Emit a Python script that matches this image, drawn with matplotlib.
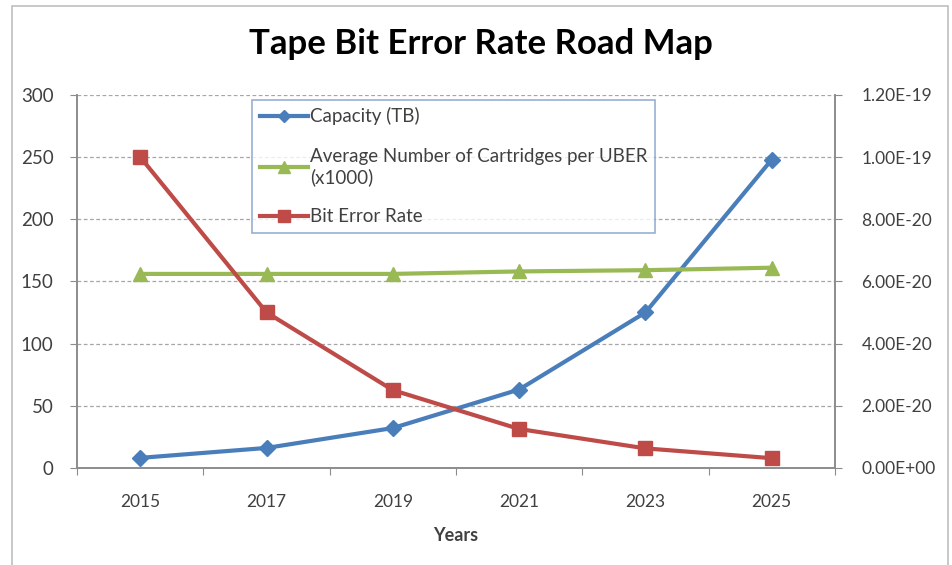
import matplotlib.pyplot as plt
from matplotlib.patches import Rectangle
from matplotlib.ticker import FixedLocator, FuncFormatter

plt.rcParams['font.family'] = ['Lato', 'DejaVu Sans']

years = ["2015", "2017", "2019", "2021", "2023", "2025"]
capacity_tb = [8, 16, 32, 63, 125, 248]
cartridges_k = [156, 156, 156, 158, 159, 161]
bit_error_rate = [1.0e-19, 5.0e-20, 2.5e-20, 1.25e-20, 6.25e-21, 3.1e-21]

blue = "#4A7EBB"
green = "#98B954"
red = "#BE4B48"
axis_grey = "#8C8C8C"
text_grey = "#404040"

fig = plt.figure(figsize=(9.52, 5.65), dpi=100)
# outer chart border
fig.patches.append(Rectangle((0.013, -0.01), 0.983, 1.0, transform=fig.transFigure,
                             fill=False, edgecolor="#BFBFBF", linewidth=1.2))

ax = fig.add_axes([0.081, 0.172, 0.796, 0.66])
ax2 = ax.twinx()

x = list(range(len(years)))
l1, = ax.plot(x, capacity_tb, color=blue, lw=3, marker="D", ms=8, label="Capacity (TB)")
l2, = ax.plot(x, cartridges_k, color=green, lw=3, marker="^", ms=10,
              label="Average Number of Cartridges per UBER\n(x1000)")
l3, = ax2.plot(x, bit_error_rate, color=red, lw=3, marker="s", ms=10, label="Bit Error Rate")

ax.set_xlim(-0.5, len(years) - 0.5)
ax.set_ylim(0, 300)
ax.set_yticks(range(0, 301, 50))
ax2.set_ylim(0, 1.2e-19)
ax2.set_yticks([i * 2e-20 for i in range(7)])
ax2.yaxis.set_major_formatter(FuncFormatter(lambda v, p: "%.2E" % v))

# category ticks between the years, labels in the middle
ax.xaxis.set_major_locator(FixedLocator([i - 0.5 for i in range(len(years) + 1)]))
ax.xaxis.set_minor_locator(FixedLocator(x))
ax.set_xticklabels([])
ax.set_xticklabels(years, minor=True)
ax.tick_params(axis="x", which="major", length=5, color=axis_grey)
ax.tick_params(axis="x", which="minor", length=0, pad=19, labelsize=12.5, labelcolor=text_grey)
ax.tick_params(axis="y", length=5, color=axis_grey, pad=12, labelsize=13.5, labelcolor=text_grey)
ax2.tick_params(axis="y", length=5, color=axis_grey, pad=14, labelsize=12.5, labelcolor=text_grey)

ax.grid(True, axis="y", linestyle=(0, (3, 2)), color="#A6A6A6", lw=0.9)
ax.set_axisbelow(True)
for a in (ax, ax2):
    a.spines["top"].set_visible(False)
    for s in ("left", "right", "bottom"):
        a.spines[s].set_color(axis_grey)
        a.spines[s].set_linewidth(1.2)

ax.set_xlabel("Years", fontsize=13, fontweight="bold", color=text_grey, labelpad=12)
fig.suptitle("Tape Bit Error Rate Road Map", fontsize=25, fontweight="bold", y=0.95, x=0.505)

leg = ax2.legend(handles=[l1, l2, l3], loc="upper left", bbox_to_anchor=(0.231, 0.987),
                 fontsize=13.5, frameon=True, fancybox=False, handlelength=2.6,
                 handletextpad=0.1, labelspacing=1.2, borderpad=0.4,
                 borderaxespad=0, markerscale=0.8)
leg.get_frame().set_edgecolor("#7F9CC8")
leg.get_frame().set_linewidth(1.2)
for t in leg.get_texts():
    t.set_color(text_grey)

fig.savefig("out.png", dpi=100)
